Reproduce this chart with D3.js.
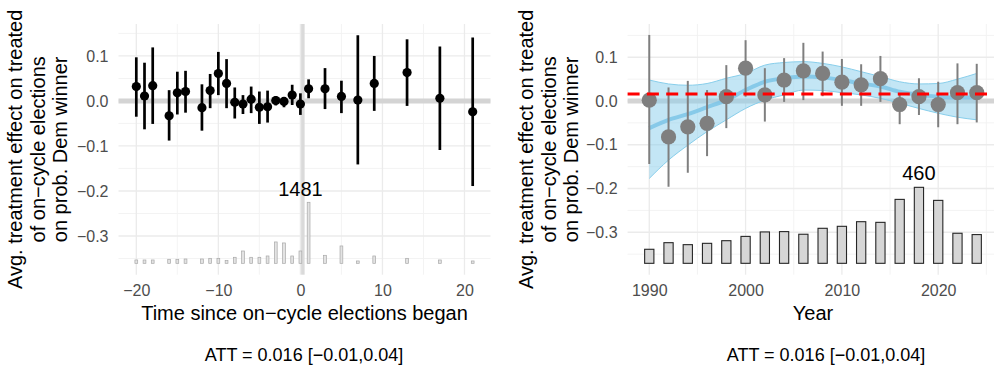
<!DOCTYPE html>
<html>
<head>
<meta charset="utf-8">
<script src="https://cdn.jsdelivr.net/npm/d3@7"></script>
<style>
body { margin: 0; background: #fff; }
svg { font-family: "Liberation Sans", Arial, sans-serif; }
</style>
</head>
<body>
<div id="chart"></div>
<script>
// ---- left panel: effect by time since on-cycle elections began
leftTime  = [-20,-19,-18,-16,-15,-14,-12,-11,-10,-9,-8,-7,-6,-5,-4,-3,-2,-1,0,1,3,5,7,9,13,17,21]
leftEst   = [0.032,0.011,0.034,-0.033,0.018,0.021,-0.015,0.023,0.061,0.039,-0.003,-0.007,0.004,-0.014,-0.013,0.001,-0.001,0.013,-0.007,0.027,0.027,0.010,0.002,0.039,0.063,0.006,-0.024]
leftLo    = [-0.035,-0.063,-0.051,-0.088,-0.030,-0.026,-0.066,-0.016,0.013,-0.016,-0.039,-0.029,-0.027,-0.051,-0.048,-0.010,-0.014,-0.009,-0.031,0.006,-0.018,-0.027,-0.141,-0.022,-0.011,-0.109,-0.189]
leftHi    = [0.097,0.085,0.119,0.024,0.065,0.067,0.037,0.060,0.109,0.093,0.030,0.013,0.032,0.021,0.023,0.011,0.008,0.036,0.017,0.048,0.073,0.045,0.146,0.100,0.137,0.121,0.141]
leftCount = [81,81,81,97,97,105,105,121,121,65,146,299,146,146,178,518,494,178,299,1481,194,421,57,178,121,81,57]
leftXTicks = [-20,-10,0,10,20]
leftMaxLabelAt = 0

// ---- right panel: effect by year
rightYear  = [1990,1992,1994,1996,1998,2000,2002,2004,2006,2008,2010,2012,2014,2016,2018,2020,2022,2024]
rightEst   = [0.002,-0.082,-0.059,-0.051,0.010,0.075,0.014,0.048,0.069,0.063,0.043,0.037,0.051,-0.008,0.010,-0.008,0.019,0.019]
rightLo    = [-0.144,-0.196,-0.164,-0.126,-0.062,0.010,-0.047,-0.002,0.002,0.011,-0.011,-0.011,-0.002,-0.053,-0.032,-0.060,-0.053,-0.049]
rightHi    = [0.151,0.031,0.046,0.025,0.082,0.139,0.075,0.098,0.133,0.113,0.096,0.084,0.103,0.014,0.052,0.044,0.086,0.085]
rightCount = [85,125,113,121,137,163,190,192,176,212,224,252,248,387,460,381,182,174]
smoothFit  = [-0.062,-0.043,-0.030,-0.014,0.002,0.025,0.044,0.052,0.056,0.054,0.048,0.040,0.033,0.021,0.014,0.010,0.008,0.008]
smoothLo   = [-0.177,-0.135,-0.101,-0.070,-0.043,-0.017,0.002,0.014,0.025,0.024,0.019,0.014,0.006,-0.005,-0.017,-0.028,-0.037,-0.043]
smoothHi   = [0.048,0.039,0.036,0.040,0.052,0.063,0.082,0.088,0.090,0.086,0.078,0.067,0.056,0.044,0.039,0.040,0.050,0.063]
rightXTicks = [1990,2000,2010,2020]

yTicks = [-0.3,-0.2,-0.1,0,0.1]
att = 0.016
attLabel = "ATT = 0.016 [\u22120.01,0.04]"
yTitle = ["Avg. treatment effect on treated", "of on\u2212cycle elections", "on prob. Dem winner"]

width = 994
height = 370
tickColor = "#4d4d4d"

var svg = d3.select("#chart").append("svg")
    .attr("width", width)
    .attr("height", height)

function drawPanel(cfg) {
    const x = d3.scaleLinear().domain(cfg.xDomain).range(cfg.xRange)
    const y = d3.scaleLinear().domain(cfg.yDomain).range([274.7, 24])
    const g = svg.append("g")

    // grid
    const yMinor = d3.range(-0.35, 0.17, 0.1)
    g.selectAll(".ymin").data(yMinor).enter().append("line")
        .attr("x1", cfg.xRange[0]).attr("x2", cfg.xRange[1])
        .attr("y1", d => y(d)).attr("y2", d => y(d))
        .attr("stroke", "#f2f2f2").attr("stroke-width", 0.9)
    g.selectAll(".xmin").data(cfg.xTicks.map(d => d + cfg.xStep / 2).concat([cfg.xTicks[0] - cfg.xStep / 2]))
        .enter().append("line")
        .filter(d => d > cfg.xDomain[0] && d < cfg.xDomain[1])
        .attr("x1", d => x(d)).attr("x2", d => x(d))
        .attr("y1", 24).attr("y2", 274.7)
        .attr("stroke", "#f2f2f2").attr("stroke-width", 0.9)
    g.selectAll(".ymaj").data(yTicks).enter().append("line")
        .attr("x1", cfg.xRange[0]).attr("x2", cfg.xRange[1])
        .attr("y1", d => y(d)).attr("y2", d => y(d))
        .attr("stroke", "#ebebeb").attr("stroke-width", 1.3)
    g.selectAll(".xmaj").data(cfg.xTicks).enter().append("line")
        .attr("x1", d => x(d)).attr("x2", d => x(d))
        .attr("y1", 24).attr("y2", 274.7)
        .attr("stroke", "#ebebeb").attr("stroke-width", 1.3)

    // axes
    const yAxis = d3.axisLeft(y).tickValues(yTicks).tickSize(0).tickPadding(10)
        .tickFormat(d3.format(".1f"))
    g.append("g").attr("transform", `translate(${cfg.xRange[0]},0)`).call(yAxis)
        .call(a => a.select(".domain").remove())
        .selectAll("text").style("font-size", "16px").attr("fill", tickColor)
    const xAxis = d3.axisBottom(x).tickValues(cfg.xTicks).tickSize(0).tickPadding(10)
        .tickFormat(d3.format("d"))
    g.append("g").attr("transform", "translate(0,274.7)").call(xAxis)
        .call(a => a.select(".domain").remove())
        .selectAll("text").style("font-size", "16px").attr("fill", tickColor)

    // titles
    const ymid = (24 + 274.7) / 2
    yTitle.forEach((t, i) => {
        g.append("text")
            .attr("transform", `translate(${cfg.yTitleX + i * 22.7},${ymid}) rotate(-90)`)
            .attr("text-anchor", "middle")
            .style("font-size", "20px")
            .text(t)
    })
    g.append("text")
        .attr("x", (cfg.xRange[0] + cfg.xRange[1]) / 2).attr("y", 320)
        .attr("text-anchor", "middle").style("font-size", "20px")
        .text(cfg.xTitle)
    g.append("text")
        .attr("x", cfg.captionX).attr("y", 361)
        .attr("text-anchor", "middle").style("font-size", "18px")
        .text(attLabel)

    return {g: g, x: x, y: y}
}

// ---------- left panel
var L = drawPanel({
    xDomain: [-22.17, 23.17], xRange: [118.5, 490.5], yDomain: [-0.386, 0.171],
    xTicks: leftXTicks, xStep: 10, yTitleX: 22,
    xTitle: "Time since on\u2212cycle elections began", captionX: 304
})
var leftHist = d3.scaleLinear().domain([0, d3.max(leftCount)]).range([L.y(-0.3607), L.y(-0.2251)])

L.g.append("line")
    .attr("x1", 118.5).attr("x2", 490.5).attr("y1", L.y(0)).attr("y2", L.y(0))
    .attr("stroke", "#d4d4d4").attr("stroke-width", 5)
L.g.append("line")
    .attr("x1", L.x(0.3)).attr("x2", L.x(0.3)).attr("y1", 24).attr("y2", 274.7)
    .attr("stroke", "#dadada").attr("stroke-width", 3.5)

L.g.selectAll(".hbar").data(leftCount).enter().append("rect")
    .attr("x", (d, i) => L.x(leftTime[i] - 0.17))
    .attr("width", L.x(0.17) - L.x(-0.17))
    .attr("y", d => leftHist(d))
    .attr("height", d => leftHist(0) - leftHist(d))
    .attr("fill", "#e3e3e3").attr("stroke", "#a8a8a8").attr("stroke-width", 0.7)
L.g.append("text")
    .attr("x", L.x(leftMaxLabelAt)).attr("y", leftHist(d3.max(leftCount)) - 6.5)
    .attr("text-anchor", "middle").style("font-size", "20px")
    .text(d3.max(leftCount))

L.g.selectAll(".ci").data(leftTime).enter().append("line")
    .attr("x1", d => L.x(d)).attr("x2", d => L.x(d))
    .attr("y1", (d, i) => L.y(leftLo[i])).attr("y2", (d, i) => L.y(leftHi[i]))
    .attr("stroke", "#000").attr("stroke-width", 2.7)
L.g.selectAll(".pt").data(leftTime).enter().append("circle")
    .attr("cx", d => L.x(d)).attr("cy", (d, i) => L.y(leftEst[i]))
    .attr("r", 4.6).attr("fill", "#000")

// ---------- right panel
var R = drawPanel({
    xDomain: [1987.75, 2026.25], xRange: [627.6, 998.4], yDomain: [-0.397, 0.176],
    xTicks: rightXTicks, xStep: 10, yTitleX: 533,
    xTitle: "Year", captionX: 826
})
var rightHist = d3.scaleLinear().domain([0, d3.max(rightCount)]).range([R.y(-0.371), R.y(-0.1973)])

R.g.append("line")
    .attr("x1", 627.6).attr("x2", 998.4).attr("y1", R.y(0)).attr("y2", R.y(0))
    .attr("stroke", "#d4d4d4").attr("stroke-width", 5)

R.g.selectAll(".hbar").data(rightCount).enter().append("rect")
    .attr("x", (d, i) => R.x(rightYear[i] - 0.48))
    .attr("width", R.x(0.96) - R.x(0))
    .attr("y", d => rightHist(d))
    .attr("height", d => rightHist(0) - rightHist(d))
    .attr("fill", "#d6d6d6").attr("stroke", "#262626").attr("stroke-width", 1.1)
var maxIdx = d3.maxIndex(rightCount)
R.g.append("text")
    .attr("x", R.x(rightYear[maxIdx])).attr("y", rightHist(rightCount[maxIdx]) - 7)
    .attr("text-anchor", "middle").style("font-size", "20px")
    .text(rightCount[maxIdx])

var band = d3.area()
    .x((d, i) => R.x(rightYear[i]))
    .y0((d, i) => R.y(smoothLo[i]))
    .y1((d, i) => R.y(smoothHi[i]))
    .curve(d3.curveMonotoneX)
R.g.append("path").datum(rightYear).attr("d", band)
    .attr("fill", "#87ceeb").attr("fill-opacity", 0.5)
var edge = arr => d3.line().x((d, i) => R.x(rightYear[i])).y((d, i) => R.y(arr[i])).curve(d3.curveMonotoneX)
;[smoothLo, smoothHi].forEach(arr => {
    R.g.append("path").datum(rightYear).attr("d", edge(arr))
        .attr("fill", "none").attr("stroke", "#87ceeb").attr("stroke-width", 1)
})
R.g.append("path").datum(rightYear).attr("d", edge(smoothFit))
    .attr("fill", "none").attr("stroke", "#7cc4e6").attr("stroke-width", 4).attr("stroke-opacity", 0.85)

R.g.selectAll(".ci").data(rightYear).enter().append("line")
    .attr("x1", d => R.x(d)).attr("x2", d => R.x(d))
    .attr("y1", (d, i) => R.y(rightLo[i])).attr("y2", (d, i) => R.y(rightHi[i]))
    .attr("stroke", "#7f7f7f").attr("stroke-width", 2)
R.g.selectAll(".pt").data(rightYear).enter().append("circle")
    .attr("cx", d => R.x(d)).attr("cy", (d, i) => R.y(rightEst[i]))
    .attr("r", 7.6).attr("fill", "#7f7f7f")

R.g.append("line")
    .attr("x1", 627.6).attr("x2", 998.4).attr("y1", R.y(att)).attr("y2", R.y(att))
    .attr("stroke", "#ff0000").attr("stroke-width", 3).attr("stroke-dasharray", "12,7.3")
</script>
</body>
</html>
